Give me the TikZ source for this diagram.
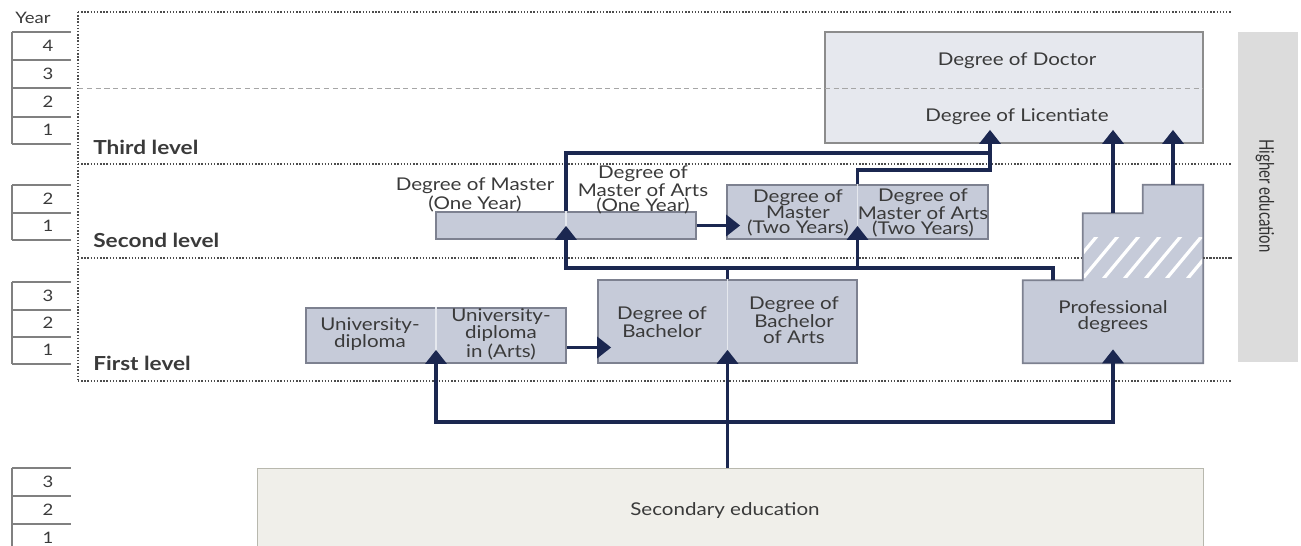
\documentclass[tikz,border=0pt]{standalone}
\usepackage{fontspec}
\setmainfont{Lato}[FakeStretch=1.17]
\newfontfamily\plainlato{Lato}
\usetikzlibrary{arrows.meta}
\definecolor{navy}{HTML}{1B2750}
\definecolor{boxfill}{HTML}{C6CBD9}
\definecolor{boxline}{HTML}{7D8190}
\definecolor{docfill}{HTML}{E6E8EE}
\definecolor{secfill}{HTML}{F0EFEA}
\definecolor{secline}{HTML}{B8B8AE}
\definecolor{barfill}{HTML}{DCDCDC}
\definecolor{txt}{HTML}{3A3A3A}

\begin{document}
\begin{tikzpicture}[x=0.02cm,y=-0.02cm]
\tikzset{deg/.style = {shape=rectangle,draw=boxline,fill=boxfill,line width=1pt,inner sep=0pt}}
\tikzset{lbl/.style = {text=txt,align=center,font=\fontsize{10}{9}\selectfont,inner sep=0pt}}
\tikzset{levellbl/.style = {text=txt,font=\fontsize{11}{12}\selectfont\bfseries,inner sep=0pt,anchor=base west}}
\tikzset{yearnum/.style = {text=txt,font=\fontsize{9}{10}\selectfont,inner sep=0pt}}
\tikzset{yearline/.style = {draw=gray,line width=0.8pt}}
\tikzset{level/.style = {draw=black!70,densely dotted,line width=0.8pt}}
\tikzset{divider/.style = {draw=white!55!boxfill,line width=0.6pt}}
\tikzset{edge/.style = {-{Triangle[length=0.28cm,width=0.42cm]},draw=navy,line width=0.075cm,shorten >=-0.28cm}}
\tikzset{wire/.style = {draw=navy,line width=0.075cm}}
\useasboundingbox (0,0) rectangle (1301,546);

% year columns
\node[yearnum] (year) at (33,18) {Year};
\foreach \top/\bot in {32/144,185/240,282/364,468/560}
  \draw[yearline] (12,\top) -- (12,\bot);
\foreach \y in {32,60,88,117,144,185,213,240,282,310,337,364,468,496,524}
  \draw[yearline] (12,\y) -- (71,\y);
\foreach \y/\n in {46/4,74/3,102/2,130/1,199/2,226/1,296/3,323/2,350/1,482/3,510/2,538/1}
  \node[yearnum] (yr_\y) at (48,\y) {\n};

% levels
\draw[level] (78,12) -- (78,381);
\foreach \y in {12,164,258,381}
  \draw[level] (78,\y) -- (1232,\y);
\node[levellbl] (third) at (93,155) {Third level};
\node[levellbl] (second) at (93,248) {Second level};
\node[levellbl] (first) at (93,371) {First level};

% higher education
\node[fill=barfill,minimum width=1.2cm,minimum height=6.6cm,inner sep=0pt] (higher) at (1268,197) {};
\node[lbl,text=black!80,font=\plainlato\fontsize{8.5}{9}\selectfont,rotate=-90] (higher_txt) at (1265,196) {\scalebox{1}[1.35]{Higher education}};

% third level
\node[deg,draw=gray!90,fill=docfill,minimum width=7.56cm,minimum height=2.22cm] (doc) at (1014,87.5) {};
\draw[draw=gray!70,densely dashed,line width=0.5pt] (78,88) -- (1203,88);
\node[lbl] (doctor) at (1017,61) {Degree of Doctor};
\node[lbl] (licentiate) at (1017,117) {Degree of Licentiate};

% second level
\node[deg,minimum width=5.2cm,minimum height=0.54cm] (mast1) at (566,225.5) {};
\draw[divider] (mast1.north) -- (mast1.south);
\node[lbl] (mast1_a) at (475,195) {Degree of Master\\(One Year)};
\node[lbl] (mast1_b) at (643,190) {Degree of\\Master of Arts\\(One Year)};
\node[deg,minimum width=5.22cm,minimum height=1.08cm] (mast2) at (857.5,212) {};
\draw[divider] (mast2.north) -- (mast2.south);
\node[lbl] (mast2_a) at (798,213) {Degree of\\Master\\(Two Years)};
\node[lbl] (mast2_b) at (923,213) {Degree of\\Master of Arts\\(Two Years)};

% first level
\node[deg,minimum width=5.2cm,minimum height=1.1cm] (univ) at (436,335.5) {};
\draw[divider] (univ.north) -- (univ.south);
\node[lbl] (univ_a) at (370,334) {University-\\diploma};
\node[lbl] (univ_b) at (501,334) {University-\\diploma\\in (Arts)};
\node[deg,minimum width=5.18cm,minimum height=1.66cm] (bach) at (727.5,321.5) {};
\draw[divider] (bach.north) -- (bach.south);
\node[lbl] (bach_a) at (662,322) {Degree of\\Bachelor};
\node[lbl] (bach_b) at (794,320) {Degree of\\Bachelor\\of Arts};

% professional degrees
\node[minimum width=3.6cm,minimum height=1.66cm,inner sep=0pt] (prof) at (1113,321.5) {};
\node[minimum width=2.4cm,minimum height=1.34cm,inner sep=0pt] (profmid) at (1143,246.5) {};
\node[minimum width=1.2cm,minimum height=0.56cm,inner sep=0pt] (proftop) at (1173,199) {};
\draw[draw=boxline,fill=boxfill,line width=1pt] (prof.south west) |- (profmid.south west)
  |- (proftop.south west) |- (proftop.north east) -- (prof.south east) -- cycle;
\begin{scope}
\clip (1084,238) rectangle (1202,278);
\foreach \i in {0,...,7}
  \draw[white,line width=0.065cm] (1052+\i*21,290) -- ++(50,-60);
\end{scope}
\draw[level] (1203,258) -- (1232,258);
\node[lbl] (prof_txt) at (1113,317) {Professional\\degrees};

% secondary
\node[draw=secline,fill=secfill,minimum width=18.92cm,minimum height=1.76cm,inner sep=0pt] (sec) at (730,512) {};
\node[lbl] (sec_txt) at (725,511) {Secondary education};

% connectors
\coordinate (fork_a) at (727.5,422);
\coordinate (fork_b) at (727.5,268);
\coordinate (lic_in) at (990,153);
\coordinate (m2_up) at (857.5,170);
\draw[edge] (sec.north -| bach.south) -- (bach.south);
\draw[edge] (fork_a) -| (univ.south);
\draw[edge] (fork_a) -| (prof.south);
\draw[edge] ([yshift=-0.24cm]univ.east) -- ([yshift=-0.24cm]univ.east -| bach.west);
\draw[wire] (bach.north) -- (fork_b);
\draw[edge] (fork_b) -| (mast1.south);
\draw[edge] (fork_b) -| (mast2.south);
\draw[wire] (fork_b) -| ([xshift=0.6cm]prof.north west);
\draw[edge] (mast1.north) |- (lic_in) -- (lic_in |- doc.south);
\draw[wire] (mast2.north) -- (m2_up) -| (lic_in);
\draw[edge] (mast1.east) -- (mast1.east -| mast2.west);
\draw[edge] ([xshift=-0.6cm]profmid.north) -- ([xshift=-0.6cm]profmid.north |- doc.south);
\draw[edge] (proftop.north) -- (proftop.north |- doc.south);
\end{tikzpicture}
\end{document}
